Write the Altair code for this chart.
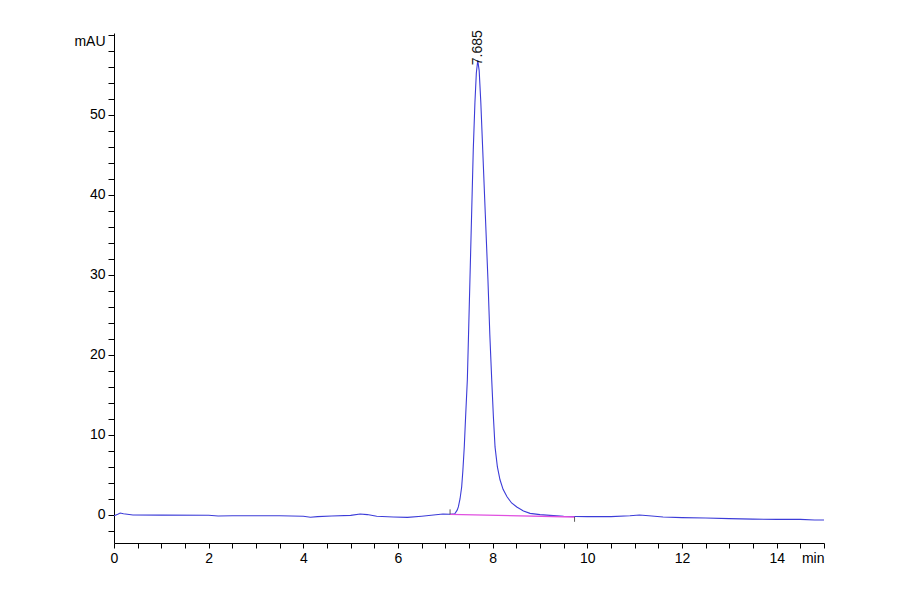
import altair as alt
import pandas as pd

# Chromatogram trace (time in min, signal in mAU)
trace_t = [0.0, 0.08, 0.13, 0.2, 0.4, 1.0, 2.0, 2.2, 2.5, 3.0, 3.5, 4.0, 4.15, 4.3,
           4.6, 5.0, 5.2, 5.35, 5.55, 5.9, 6.2, 6.5, 6.8, 6.95, 7.1, 7.2,
           7.25, 7.275, 7.31, 7.345, 7.37, 7.40, 7.43, 7.465, 7.49, 7.52, 7.555,
           7.59, 7.625, 7.655, 7.685, 7.715, 7.75, 7.79, 7.845, 7.90, 7.94, 7.98,
           8.015, 8.05, 8.10, 8.155, 8.22, 8.30, 8.40, 8.51, 8.65, 8.79, 9.0, 9.21,
           9.5, 10.0, 10.5, 10.9, 11.1, 11.3, 11.6, 12.0, 12.5, 13.0, 13.5, 14.0,
           14.5, 14.8, 15.0]
trace_v = [-0.1, 0.1, 0.25, 0.15, 0.0, -0.02, -0.03, -0.12, -0.1, -0.1, -0.1, -0.15, -0.28, -0.2,
           -0.12, -0.05, 0.12, 0.05, -0.15, -0.25, -0.3, -0.15, 0.02, 0.12, 0.1, 0.15,
           0.6, 1.0, 2.0, 3.5, 5.5, 8.5, 12.5, 16.9, 22.5, 29.4, 37.5,
           45.6, 51.5, 55.2, 56.8, 55.5, 51.5, 45.6, 37.5, 29.4, 22.5, 16.9,
           12.3, 8.5, 6.0, 4.4, 3.2, 2.3, 1.5, 1.0, 0.5, 0.2, 0.05, -0.05,
           -0.15, -0.2, -0.2, -0.1, 0.0, -0.1, -0.25, -0.33, -0.38, -0.45, -0.52, -0.55,
           -0.55, -0.62, -0.63]

# Integration baseline
base_t = [7.1, 9.73]
base_v = [0.08, -0.25]
base_tick_top = [0.7, -0.25]
base_tick_bot = [0.08, -0.85]

# Peak annotation
peak_t = [7.685]
peak_v = [56.8]
peak_label = ["7.685"]

x_ticks = [i * 0.5 for i in range(0, 31)]
y_ticks = list(range(-2, 61, 2))

FONT = "'Liberation Sans Narrow', 'Liberation Sans', Arial"

trace_df = pd.DataFrame({"t": trace_t, "v": trace_v})
base_df = pd.DataFrame({"t": base_t, "v": base_v, "top": base_tick_top, "bot": base_tick_bot})
peak_df = pd.DataFrame({"t": peak_t, "v": peak_v, "label": peak_label})

xscale = alt.Scale(domain=[0, 15], nice=False, zero=False)
yscale = alt.Scale(domain=[-3.5, 60.2], nice=False, zero=False)

xaxis = alt.Axis(
    values=x_ticks, title=None, grid=False, tickSize=5, labelPadding=3,
    labelExpr="datum.value == 15 ? 'min' : (datum.value % 2 == 0 ? format(datum.value, 'd') : '')",
    labelAlign={"condition": {"test": "datum.value == 15", "value": "right"}, "value": "center"},
    labelFlush=False, labelOverlap=False,
)
yaxis = alt.Axis(
    values=y_ticks, title=None, grid=False, tickSize=6, labelPadding=3,
    labelExpr="datum.value == 60 ? 'mAU' : (datum.value % 10 == 0 ? format(datum.value, 'd') : '')",
    labelBaseline={"condition": {"test": "datum.value == 60", "value": "top"}, "value": "middle"},
    labelFlush=False, labelOverlap=False,
)


def X(field):
    return alt.X(f"{field}:Q", scale=xscale, axis=xaxis, title=None)


def Y(field):
    return alt.Y(f"{field}:Q", scale=yscale, axis=yaxis, title=None)


line = alt.Chart(trace_df).mark_line(color="#3c3cd8", strokeWidth=1.1).encode(
    x=X("t"), y=Y("v"),
)

baseline = alt.Chart(base_df).mark_line(color="#e050e0", strokeWidth=1.3).encode(
    x=X("t"), y=Y("v"),
)

base_ticks = alt.Chart(base_df).mark_rule(color="#333333", strokeWidth=0.8).encode(
    x=X("t"), y=Y("top"), y2="bot:Q"
)

label = alt.Chart(peak_df).mark_text(
    angle=270, align="left", baseline="middle", dx=-5, fontSize=14, font=FONT, color="#111111"
).encode(x=X("t"), y=Y("v"), text="label:N")

chart = alt.layer(line, baseline, base_ticks, label).properties(
    width=710, height=510,
    background="white",
    autosize=alt.AutoSizeParams(type="none"),
    padding={"left": 106, "top": 25, "right": 60, "bottom": 40},
).configure_view(strokeWidth=0, stroke="transparent").configure_axis(
    domainColor="black", tickColor="black", labelColor="black",
    labelFont=FONT, labelFontSize=14, domainWidth=1, tickWidth=1,
)

chart.save("out.html", embed_options={"renderer": "svg", "actions": False})
